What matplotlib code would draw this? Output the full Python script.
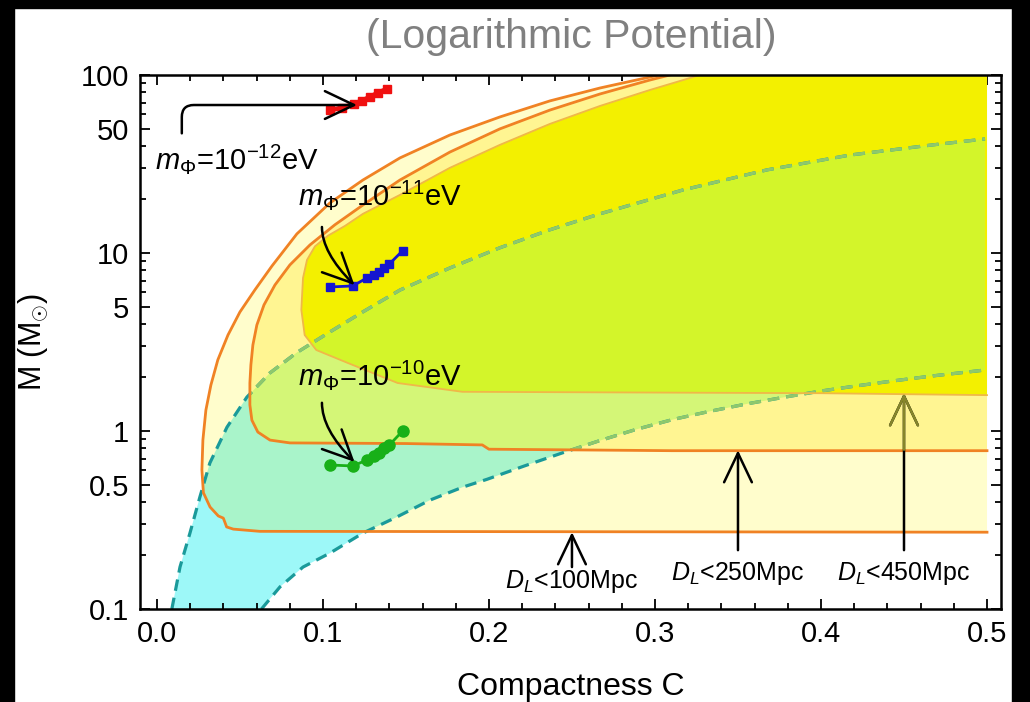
import matplotlib
matplotlib.use("Agg")
import matplotlib.pyplot as plt
from matplotlib.patches import FancyArrowPatch, Rectangle
from matplotlib.ticker import MultipleLocator, LogLocator, NullFormatter

plt.rcParams['font.family'] = ['Liberation Sans', 'DejaVu Sans']
plt.rcParams['mathtext.fontset'] = 'custom'
plt.rcParams['mathtext.rm'] = 'Liberation Sans'
plt.rcParams['mathtext.it'] = 'Liberation Sans:italic'
plt.rcParams['mathtext.bf'] = 'Liberation Sans:bold'

# ---- detectable regions (compactness C, mass M in solar masses) ----
r100_c = [0.500, 0.062, 0.046, 0.042, 0.040, 0.037, 0.032, 0.028, 0.0271, 0.0277,
          0.0295, 0.0325, 0.0367, 0.0428, 0.0500, 0.0590, 0.0693, 0.0843, 0.1042,
          0.1241, 0.1464, 0.1765, 0.2066, 0.2367, 0.2669, 0.2970, 0.3151]
r100_m = [0.27, 0.273, 0.281, 0.289, 0.324, 0.333, 0.374, 0.45, 0.604, 0.890,
          1.31, 1.81, 2.51, 3.46, 4.66, 6.20, 8.45, 12.8, 19.1,
          25.7, 34.2, 46.0, 58.1, 71.5, 84.5, 97.4, 106.7]

r250_c = [0.500, 0.310, 0.200, 0.196, 0.150, 0.0801, 0.0681, 0.0608, 0.0572, 0.0560,
          0.0560, 0.0566, 0.0578, 0.0602, 0.0645, 0.0711, 0.0801, 0.0922, 0.1072,
          0.1241, 0.1464, 0.1765, 0.2066, 0.2367, 0.2669, 0.2970, 0.3090, 0.3270]
r250_m = [0.775, 0.775, 0.79, 0.835, 0.85, 0.857, 0.889, 0.986, 1.15, 1.40,
          1.86, 2.35, 3.04, 3.94, 5.11, 6.61, 8.57, 11.1, 14.4,
          18.6, 25.7, 36.9, 49.8, 63.5, 78.2, 93.7, 100, 109]

r450_c = [0.500, 0.400, 0.184, 0.145, 0.115, 0.096, 0.089, 0.087, 0.0873, 0.0880,
          0.0904, 0.0952, 0.1030, 0.1133, 0.1241, 0.1464, 0.1765, 0.2066, 0.2367,
          0.2669, 0.2970, 0.3211, 0.3331]
r450_m = [1.59, 1.63, 1.66, 1.86, 2.41, 2.85, 3.46, 4.79, 5.45, 7.24,
          9.14, 10.9, 12.5, 14.2, 16.6, 21.2, 30.1, 40.5, 53.1,
          67.0, 82.4, 96.2, 105]

# ---- allowed band (dashed boundaries) ----
band_top_c = [0.009, 0.0139, 0.0199, 0.0259, 0.0319, 0.0422, 0.0542, 0.0681, 0.0843,
              0.1042, 0.1241, 0.1464, 0.1765, 0.2066, 0.2367, 0.2669, 0.3169,
              0.3675, 0.4175, 0.4675, 0.4988]
band_top_m = [0.1, 0.172, 0.267, 0.426, 0.661, 1.05, 1.55, 2.12, 2.76,
              3.60, 4.67, 6.19, 8.24, 10.7, 13.5, 16.6, 22.6,
              29.3, 35.5, 40.5, 43.7]
band_bot_c = [0.063, 0.0741, 0.0880, 0.1042, 0.1241, 0.1446, 0.1645, 0.1843, 0.1988,
              0.2211, 0.2440, 0.2663, 0.2886, 0.3108, 0.3331, 0.3554, 0.3783,
              0.4006, 0.4229, 0.4452, 0.4675, 0.4988]
band_bot_m = [0.1, 0.133, 0.172, 0.206, 0.267, 0.329, 0.409, 0.484, 0.535,
              0.635, 0.752, 0.880, 1.02, 1.16, 1.29, 1.42, 1.55,
              1.68, 1.80, 1.92, 2.04, 2.20]

# ---- boson star sequences ----
red_c = [0.1042, 0.1114, 0.1187, 0.1235, 0.1283, 0.1331, 0.1386]
red_m = [63.5, 65.3, 68.8, 71.5, 75.2, 79.2, 83.4]
blue_c = [0.104, 0.118, 0.1265, 0.131, 0.134, 0.137, 0.140, 0.148]
blue_m = [6.44, 6.53, 7.24, 7.52, 7.81, 8.23, 8.67, 10.3]
green_c = [0.104, 0.118, 0.1265, 0.131, 0.134, 0.137, 0.140, 0.148]
green_m = [0.644, 0.636, 0.687, 0.724, 0.752, 0.80, 0.834, 1.0]

x_ticks = [0.0, 0.1, 0.2, 0.3, 0.4, 0.5]
x_tick_labels = ['0.0', '0.1', '0.2', '0.3', '0.4', '0.5']
y_ticks = [0.1, 0.5, 1, 5, 10, 50, 100]
y_tick_labels = ['0.1', '0.5', '1', '5', '10', '50', '100']

dist_labels = ['$D_L$<100Mpc', '$D_L$<250Mpc', '$D_L$<450Mpc']
dist_c = [0.25, 0.35, 0.45]
dist_arrow_m = [(0.172, 0.27), (0.214, 0.78), (0.214, 1.63)]
dist_text_m = [0.131, 0.146, 0.146]

fig = plt.figure(figsize=(10.30, 7.02), dpi=100)
fig.patch.set_facecolor('white')
ax = fig.add_axes([0.1359, 0.1325, 0.8359, 0.7607])
ax.set_yscale('log')
ax.set_xlim(-0.0102, 0.5084)
ax.set_ylim(0.1, 100)

band_c = band_top_c + band_bot_c[::-1]
band_m = band_top_m + band_bot_m[::-1]

# band over empty background
ax.fill(band_c, band_m, color='#9DF8F8', lw=0, zorder=1)

regions = [
    (r100_c, r100_m, '#FFFDCC', '#A9F4CA'),
    (r250_c, r250_m, '#FFF592', '#D4F677'),
    (r450_c, r450_m, '#F3F000', '#D3F52A'),
]
polys = []
z = 2
for rc, rm, col, bcol in regions:
    poly = ax.fill(rc + [0.5], rm + [rm[-1]], color=col, lw=0, zorder=z)[0]
    polys.append(poly)
    inner = ax.fill(band_c, band_m, color=bcol, lw=0, zorder=z + 0.5)[0]
    inner.set_clip_path(poly)
    z += 1

# dashed band edges
dash = (0, (3.6, 2.2))
for bc, bm in [(band_top_c, band_top_m), (band_bot_c, band_bot_m)]:
    ax.plot(bc, bm, color='#1A9A9A', lw=2.3, ls=dash, zorder=6)
    ln, = ax.plot(bc, bm, color='#8FC86C', lw=2.3, ls=dash, zorder=6.1)
    ln.set_clip_path(polys[1])

# region boundaries
ax.plot(r100_c, r100_m, color='#F08224', lw=2.0, zorder=7)
ax.plot(r250_c, r250_m, color='#F08224', lw=2.0, zorder=7)
ax.plot(r450_c, r450_m, color='#F0B848', lw=1.3, zorder=7)


def arrow(p0, p1, conn='arc3', color='black', clip=None):
    a = FancyArrowPatch(p0, p1, arrowstyle='->,head_length=1.05,head_width=0.5',
                        mutation_scale=20, connectionstyle=conn, lw=1.8,
                        color=color, shrinkA=0, shrinkB=0, zorder=9)
    ax.add_patch(a)
    if clip is not None:
        a.set_clip_path(clip)
    return a


# distance arrows and labels
for i, (c, (m0, m1), lab, tm) in enumerate(zip(dist_c, dist_arrow_m, dist_labels, dist_text_m)):
    arrow((c, m0), (c, m1), color='black')
    if i == 2:
        arrow((c, m0), (c, m1), color='#86862A', clip=polys[1])
    ax.text(c, tm, lab, ha='center', va='baseline', fontsize=18, zorder=10)

# boson star sequences
ax.plot(red_c, red_m, color='#F01010', lw=3.5, marker='s', ms=6, zorder=8)
ax.plot(blue_c, blue_m, color='#1515D0', lw=2.0, marker='s', ms=6, zorder=8)
ax.plot(green_c, green_m, color='#18B018', lw=2.0, marker='o', ms=8, zorder=8)

# mass labels with arrows
ax.text(-0.001, 29.5, r'$m_\Phi$=10$^{-12}$eV', fontsize=21, va='baseline', zorder=10)
arrow((0.015, 47), (0.1205, 67.8), conn='angle,angleA=90,angleB=0,rad=12')
ax.text(0.085, 18.6, r'$m_\Phi$=10$^{-11}$eV', fontsize=21, va='baseline', zorder=10)
arrow((0.0994, 14.0), (0.119, 6.6), conn='angle3,angleA=90,angleB=-45')
ax.text(0.085, 1.81, r'$m_\Phi$=10$^{-10}$eV', fontsize=21, va='baseline', zorder=10)
arrow((0.0994, 1.44), (0.119, 0.67), conn='angle3,angleA=90,angleB=-45')

# axes styling
ax.set_xticks(x_ticks)
ax.set_xticklabels(x_tick_labels)
ax.xaxis.set_minor_locator(MultipleLocator(0.02))
ax.set_yticks(y_ticks)
ax.set_yticklabels(y_tick_labels)
ax.yaxis.set_minor_locator(LogLocator(base=10, subs=[2, 3, 4, 5, 6, 7, 8, 9]))
ax.yaxis.set_minor_formatter(NullFormatter())
ax.tick_params(which='both', direction='in', top=True, right=True, colors='black',
               labelsize=21, width=1.3)
ax.tick_params(which='major', length=7, pad=8)
ax.tick_params(which='minor', length=4)
for s in ax.spines.values():
    s.set_linewidth(1.8)
    s.set_zorder(12)

ax.set_xlabel('Compactness C', fontsize=23)
ax.xaxis.set_label_coords(0.5, -0.118)
ax.set_ylabel(r'M (M$_{\odot}$)', fontsize=22)
ax.yaxis.set_label_coords(-0.104, 0.5)

fig.text(571 / 1030, 1 - 37 / 702, '(Logarithmic Potential)', ha='center', va='center',
         fontsize=29.5, color='#808080')

# dark frame on the left, top and right edges
for rect in [(0, 0, 14 / 1030, 1), (0, 1 - 8 / 702, 1, 8 / 702), (1012 / 1030, 0, 18 / 1030, 1)]:
    fig.add_artist(Rectangle(rect[:2], rect[2], rect[3], transform=fig.transFigure,
                             color='black', zorder=20))

fig.savefig('out.png', dpi=100)
